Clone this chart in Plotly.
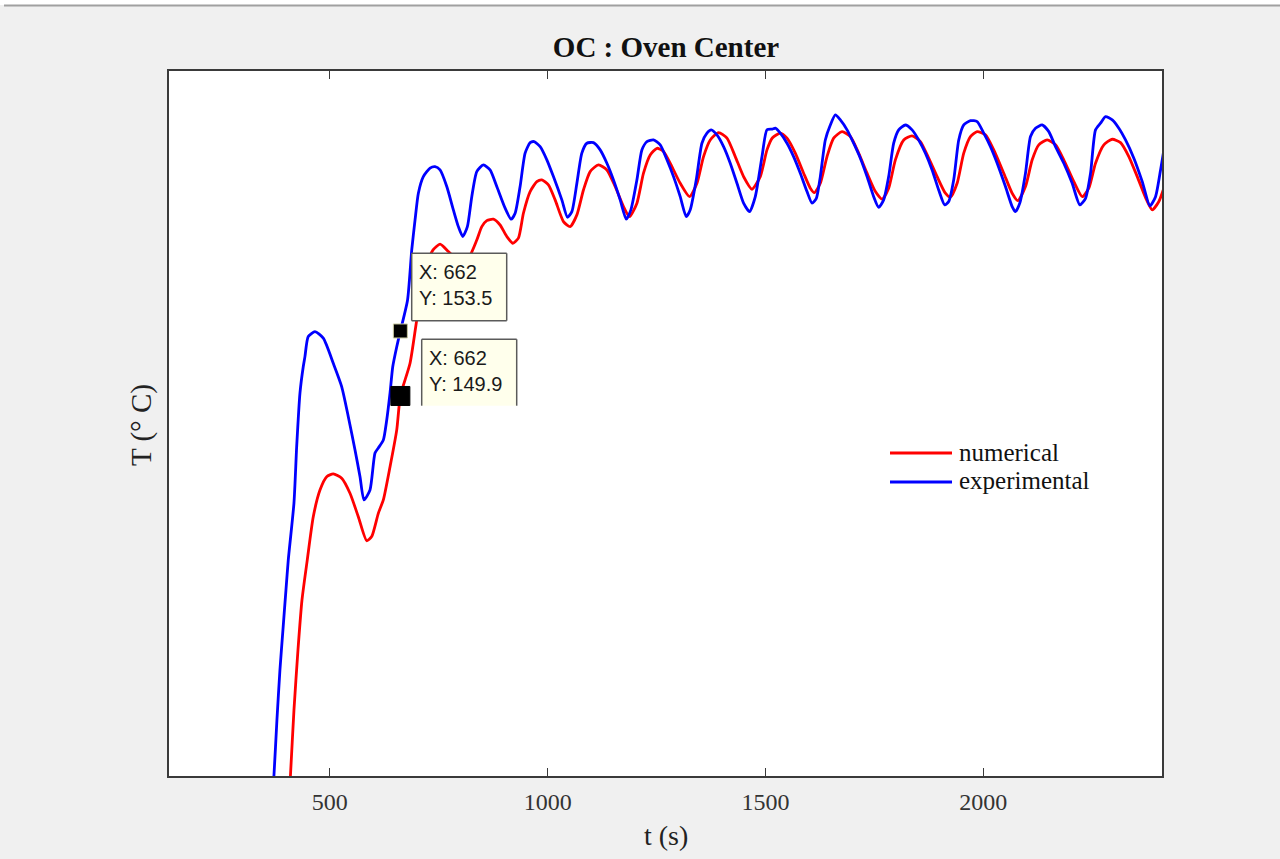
import plotly.graph_objects as go

# ---------------- data ----------------
t_num = [406.3, 409.7, 417.8, 427.0, 436.2, 448.3, 462.1, 477.5, 492.9, 508.0,
         527.3, 546.4, 565.5, 584.8, 596.2, 611.4, 622.9, 638.3, 653.7, 662.0,
         684.2, 699.6, 711.8, 725.5, 737.0, 753.1, 772.2, 787.6, 803.6, 819.7,
         837.4, 848.9, 860.3, 875.5, 890.9, 906.3, 920.1, 932.9, 944.4, 959.8,
         975.2, 986.7, 1001.8, 1017.2, 1036.3, 1051.7, 1067.1, 1082.2, 1097.6, 1116.7,
         1136.0, 1155.0, 1174.1, 1187.9, 1204.9, 1220.0, 1235.4, 1250.8, 1266.0, 1285.2,
         1304.3, 1325.7, 1342.7, 1357.8, 1373.2, 1392.3, 1411.6, 1430.6, 1449.7, 1469.0,
         1488.0, 1503.4, 1515.6, 1534.0, 1549.4, 1568.4, 1587.5, 1602.9, 1612.1, 1625.8,
         1641.2, 1656.4, 1675.7, 1694.8, 1713.8, 1733.1, 1752.2, 1767.6, 1782.7, 1798.1,
         1817.2, 1836.4, 1855.5, 1874.6, 1893.9, 1912.9, 1924.4, 1939.8, 1955.0, 1970.4,
         1985.7, 2004.8, 2023.9, 2046.8, 2066.1, 2079.0, 2096.7, 2112.1, 2127.2, 2146.5,
         2165.6, 2184.6, 2207.6, 2226.9, 2242.1, 2257.4, 2276.5, 2295.8, 2314.9, 2333.9,
         2353.2, 2374.6, 2387.7, 2402.8, 2414.3]
T_num = [127.52, 128.85, 132.50, 135.83, 138.60, 140.81, 143.21, 144.69, 145.43, 145.58,
         145.34, 144.51, 143.21, 141.88, 142.11, 143.40, 144.14, 145.98, 148.02, 149.90,
         151.71, 154.11, 155.77, 157.32, 157.99, 158.31, 157.90, 157.55, 157.38, 157.60,
         158.54, 159.28, 159.61, 159.69, 159.37, 158.73, 158.36, 158.64, 160.02, 161.22,
         161.77, 161.87, 161.59, 160.76, 159.56, 159.28, 159.93, 161.31, 162.33, 162.70,
         162.42, 161.50, 160.39, 159.83, 160.58, 162.24, 163.25, 163.62, 163.44, 162.60,
         161.68, 160.94, 161.68, 163.16, 164.08, 164.49, 164.18, 163.16, 162.05, 161.35,
         162.05, 163.53, 164.19, 164.46, 164.18, 163.35, 162.24, 161.41, 161.16, 161.68,
         163.16, 164.18, 164.54, 164.27, 163.35, 162.24, 161.22, 160.80, 161.41, 162.98,
         164.08, 164.31, 163.99, 163.07, 162.05, 161.13, 160.91, 161.68, 163.35, 164.27,
         164.54, 164.36, 163.53, 162.24, 161.13, 160.72, 161.50, 162.98, 163.81, 164.08,
         163.81, 162.98, 161.77, 160.94, 161.41, 162.79, 163.81, 164.12, 163.93, 163.16,
         162.05, 160.76, 160.21, 160.67, 161.41]

t_exp = [367.3, 371.8, 378.7, 385.6, 392.5, 399.4, 404.7, 417.8, 424.0, 431.6,
         439.1, 443.0, 450.6, 466.0, 485.1, 508.0, 527.3, 542.5, 557.9, 569.4,
         578.5, 592.3, 603.8, 611.4, 622.9, 630.7, 638.3, 644.5, 653.7, 662.0,
         678.5, 688.1, 695.7, 703.3, 714.7, 730.1, 741.6, 753.1, 768.5, 783.6,
         795.1, 805.2, 815.8, 825.9, 837.4, 852.5, 867.9, 883.3, 902.4, 916.2,
         925.4, 936.8, 948.3, 959.8, 969.0, 982.8, 998.2, 1013.3, 1032.6, 1045.5,
         1055.6, 1067.1, 1078.5, 1090.0, 1105.2, 1120.6, 1136.0, 1151.1, 1166.5, 1180.3,
         1191.1, 1204.9, 1216.3, 1227.8, 1243.0, 1258.4, 1273.8, 1288.9, 1304.3, 1318.1,
         1327.3, 1341.1, 1354.1, 1365.6, 1375.5, 1388.6, 1403.8, 1419.1, 1434.5, 1449.7,
         1463.5, 1476.6, 1492.0, 1503.4, 1515.6, 1522.5, 1534.0, 1549.4, 1564.5, 1579.9,
         1595.3, 1606.8, 1616.7, 1625.8, 1637.3, 1648.8, 1660.3, 1671.8, 1687.2, 1702.3,
         1717.7, 1733.1, 1748.3, 1759.7, 1771.2, 1782.7, 1794.2, 1805.7, 1821.1, 1836.4,
         1851.6, 1867.0, 1882.4, 1897.5, 1911.3, 1920.5, 1932.0, 1943.5, 1955.0, 1970.4,
         1985.7, 2000.9, 2016.3, 2031.7, 2050.7, 2066.1, 2073.7, 2083.6, 2096.7, 2108.2,
         2119.6, 2135.0, 2150.2, 2165.6, 2184.6, 2203.9, 2221.4, 2234.5, 2246.0, 2257.4,
         2268.9, 2280.4, 2295.8, 2311.0, 2326.3, 2345.4, 2364.7, 2382.2, 2395.2, 2406.7,
         2414.3]
T_exp = [127.52, 128.85, 131.95, 134.72, 136.94, 139.15, 140.81, 143.97, 147.09, 150.07,
         151.52, 152.08, 153.19, 153.46, 153.10, 151.71, 150.42, 148.75, 146.91, 145.43,
         144.14, 144.69, 146.74, 147.02, 147.46, 148.57, 150.07, 151.52, 152.63, 153.50,
         155.22, 157.99, 159.65, 161.13, 162.05, 162.52, 162.60, 162.42, 161.50, 160.21,
         159.28, 158.73, 159.28, 160.94, 162.33, 162.70, 162.42, 161.50, 160.30, 159.69,
         160.02, 161.50, 163.35, 163.93, 163.99, 163.71, 162.98, 162.05, 160.76, 159.80,
         160.11, 161.68, 163.35, 163.90, 163.93, 163.53, 162.79, 161.87, 160.76, 159.69,
         160.21, 161.87, 163.53, 163.99, 164.08, 163.81, 162.98, 162.05, 160.94, 159.83,
         160.21, 161.87, 163.90, 164.46, 164.64, 164.36, 163.71, 162.79, 161.68, 160.58,
         160.11, 160.94, 163.16, 164.64, 164.68, 164.73, 164.46, 163.90, 163.16, 162.24,
         161.22, 160.58, 160.85, 162.05, 164.08, 164.91, 165.47, 165.19, 164.64, 163.90,
         163.07, 162.05, 160.94, 160.35, 160.76, 162.05, 163.90, 164.64, 164.91, 164.64,
         164.08, 163.35, 162.42, 161.31, 160.48, 160.67, 161.87, 164.08, 164.91, 165.15,
         165.10, 164.46, 163.71, 162.79, 161.50, 160.39, 160.11, 160.58, 162.24, 164.27,
         164.73, 164.91, 164.54, 163.71, 162.79, 161.68, 160.48, 160.85, 162.24, 164.64,
         165.01, 165.37, 165.19, 164.73, 164.08, 163.07, 161.77, 160.43, 160.94, 162.42,
         163.53]

tip_t = [662, 662]
tip_T = [153.5, 149.9]
tip_size = [14, 19]
tip_labels = ["X: 662<br>Y: 153.5", "X: 662<br>Y: 149.9"]

legend_names = ["numerical", "experimental"]
legend_colors = ["#ff0000", "#0000ff"]

x_ticks = [500, 1000, 1500, 2000]
x_range = [131, 2410]
y_range = [128.85, 167.9]

# ---------------- figure ----------------
W, H = 1280, 859
L, R, T, B = 169, 118, 71, 83
pw, ph = W - L - R, H - T - B


def px2x(px):
    return (px - L) / pw


def py2y(py):
    return (H - B - py) / ph


serif = "Liberation Serif, Times New Roman, serif"
sans = "Liberation Sans, Arial, sans-serif"

fig = go.Figure()
fig.add_trace(go.Scatter(x=t_num, y=T_num, mode="lines", name=legend_names[0], showlegend=False,
                         line=dict(color=legend_colors[0], width=2.8, shape="spline", smoothing=0.6)))
fig.add_trace(go.Scatter(x=t_exp, y=T_exp, mode="lines", name=legend_names[1], showlegend=False,
                         line=dict(color=legend_colors[1], width=2.8, shape="spline", smoothing=0.6)))
fig.add_trace(go.Scatter(x=tip_t, y=tip_T, mode="markers", showlegend=False, opacity=1,
                         marker=dict(symbol="square", size=tip_size, color="#000000", opacity=1,
                                     line=dict(color=["#c8c8a0", "#000000"], width=1))))

shapes = []
annotations = []
# datatip boxes (pixel geometry)
boxes = [(411.7, 253.3, 506.7, 320.7, True), (421.7, 339.3, 516.7, 405.7, False)]
for (x0, y0, x1, y1, full), lab in zip(boxes, tip_labels):
    shapes.append(dict(type="rect", xref="paper", yref="paper",
                       x0=px2x(x0), x1=px2x(x1), y0=py2y(y1), y1=py2y(y0),
                       fillcolor="#ffffec", line=dict(width=0), layer="above"))
    segs = [(x0, y0, x1, y0), (x0, y0, x0, y1), (x1, y0, x1, y1)]
    if full:
        segs.append((x0, y1, x1, y1))
    for a, b, c, d in segs:
        shapes.append(dict(type="line", xref="paper", yref="paper",
                           x0=px2x(a), x1=px2x(c), y0=py2y(b), y1=py2y(d),
                           line=dict(color="#5a5a5a", width=1.5), layer="above"))
    annotations.append(dict(text=lab, xref="paper", yref="paper",
                            x=px2x(x0 + 5), y=py2y(y0 + 6), xanchor="left", yanchor="top",
                            align="left", showarrow=False,
                            font=dict(family=sans, size=20, color="#1a1a1a")))

# legend (drawn manually to match the sample length and row spacing)
for i, (name, col) in enumerate(zip(legend_names, legend_colors)):
    yy = 453 + 29 * i
    shapes.append(dict(type="line", xref="paper", yref="paper",
                       x0=px2x(890), x1=px2x(952), y0=py2y(yy), y1=py2y(yy),
                       line=dict(color=col, width=2.8)))
    annotations.append(dict(text=name, xref="paper", yref="paper", x=px2x(957), y=py2y(yy - 1),
                            xanchor="left", yanchor="middle", showarrow=False,
                            font=dict(family=serif, size=25, color="#111")))

# axis titles
annotations.append(dict(text="t (s)", xref="paper", yref="paper", x=0.5, y=py2y(836),
                        xanchor="center", yanchor="middle", showarrow=False,
                        font=dict(family=serif, size=28, color="#222")))
annotations.append(dict(text="T (° C)", xref="paper", yref="paper", x=px2x(141), y=py2y(425),
                        xanchor="center", yanchor="middle", showarrow=False, textangle=-90,
                        font=dict(family=serif, size=29, color="#222")))

# screenshot top edge
shapes.append(dict(type="rect", xref="paper", yref="paper", x0=-0.3, x1=1.3,
                   y0=py2y(5), y1=py2y(-5), fillcolor="white", line=dict(width=0)))
shapes.append(dict(type="line", xref="paper", yref="paper", x0=px2x(4), x1=1.3,
                   y0=py2y(5.5), y1=py2y(5.5), line=dict(color="#a0a0a0", width=2)))

fig.update_layout(
    width=W, height=H,
    margin=dict(l=L, r=R, t=T, b=B),
    paper_bgcolor="#f0f0f0", plot_bgcolor="white",
    title=dict(text="OC : Oven Center", x=666 / W, xanchor="center",
               y=1 - 47 / H, yanchor="middle",
               font=dict(family=serif, size=29, color="#111", weight="bold")),
    xaxis=dict(range=x_range, tickvals=x_ticks, ticktext=[str(v) for v in x_ticks],
               showgrid=False, zeroline=False, showline=True, mirror="ticks",
               linecolor="#3a3a3a", linewidth=1.5, ticks="inside", ticklen=8,
               tickcolor="#3a3a3a", tickwidth=1, ticklabelstandoff=3,
               tickfont=dict(family=serif, size=24, color="#333")),
    yaxis=dict(range=y_range, showgrid=False, zeroline=False, showline=True, mirror=True,
               linecolor="#3a3a3a", linewidth=1.5, ticks="", showticklabels=False),
    shapes=shapes, annotations=annotations, showlegend=False,
)

fig.write_html("out.html", config={"displayModeBar": False},
               post_script="document.body.style.margin='0';")
